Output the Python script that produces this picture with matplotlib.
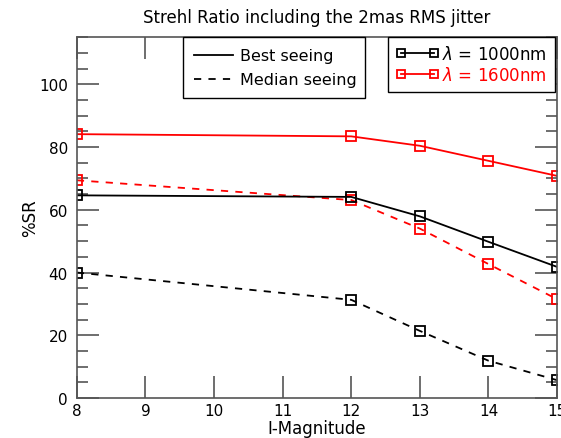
import matplotlib
matplotlib.use("Agg")
import matplotlib.pyplot as plt
from matplotlib.lines import Line2D

mags = [8, 12, 13, 14, 15]
sr_1000_best = [64.6, 64.1, 57.9, 49.8, 41.8]
sr_1000_median = [40.0, 31.3, 21.4, 11.9, 5.7]
sr_1600_best = [84.1, 83.4, 80.4, 75.6, 70.8]
sr_1600_median = [69.4, 63.1, 54.0, 42.7, 31.5]

fig = plt.figure(figsize=(5.61, 4.39), dpi=100)
ax = fig.add_axes([0.137, 0.091, 0.856, 0.822])

dash = (0, (4, 4))
mk = dict(marker="s", markersize=7, markerfacecolor="none", markeredgewidth=1.3, linewidth=1.3)
ax.plot(mags, sr_1600_best, color="red", linestyle="-", **mk)
ax.plot(mags, sr_1600_median, color="red", linestyle=dash, **mk)
ax.plot(mags, sr_1000_best, color="black", linestyle="-", **mk)
ax.plot(mags, sr_1000_median, color="black", linestyle=dash, **mk)

ax.set_xlim(8, 15)
ax.set_ylim(0, 115)
ax.set_xticks(range(8, 16))
ax.set_yticks(range(0, 101, 20))
ax.set_yticks(range(0, 116, 5), minor=True)
ax.tick_params(axis="y", which="major", direction="in", length=16, width=1.2, color="#555555",
               right=True, labelsize=11, pad=6.5)
ax.tick_params(axis="y", which="minor", direction="in", length=8, width=1.2, color="#555555", right=True)
ax.tick_params(axis="x", which="major", direction="in", length=16, width=1.2, color="#555555",
               top=True, labelsize=11)
for s in ax.spines.values():
    s.set_color("#555555")
    s.set_linewidth(1.2)

ax.set_xlabel("I-Magnitude", fontsize=12, labelpad=1)
ax.set_ylabel("%SR", fontsize=12, labelpad=0)
ax.set_title("Strehl Ratio including the 2mas RMS jitter", fontsize=12, pad=11)

h1 = [Line2D([], [], color="black", linestyle="-", linewidth=1.3),
      Line2D([], [], color="black", linestyle=dash, linewidth=1.3)]
leg1 = ax.legend(h1, ["Best seeing", "Median seeing"], loc="upper left",
                 bbox_to_anchor=(0.221, 0.0, 0.379, 1.0), mode="expand", fontsize=11.5,
                 fancybox=False, edgecolor="black", framealpha=1, handlelength=2.45,
                 handletextpad=0.45, borderaxespad=0, borderpad=0.7, labelspacing=0.56)
leg1.get_frame().set_linewidth(1.0)
ax.add_artist(leg1)

mk_leg = dict(mk, markersize=5.5)
h2 = [Line2D([], [], color="black", **mk_leg), Line2D([], [], color="red", **mk_leg)]
leg2 = ax.legend(h2, [r"$\lambda$ = 1000nm", r"$\lambda$ = 1600nm"], loc="upper left",
                 bbox_to_anchor=(0.648, 0.0, 0.348, 1.0), mode="expand", fontsize=12,
                 fancybox=False, numpoints=2, edgecolor="black", framealpha=1,
                 handlelength=2.6, handletextpad=0.2, borderaxespad=0, borderpad=0.45,
                 labelspacing=0.2)
leg2.get_frame().set_linewidth(1.0)
leg2.get_texts()[1].set_color("red")

fig.savefig("out.png", dpi=100)
